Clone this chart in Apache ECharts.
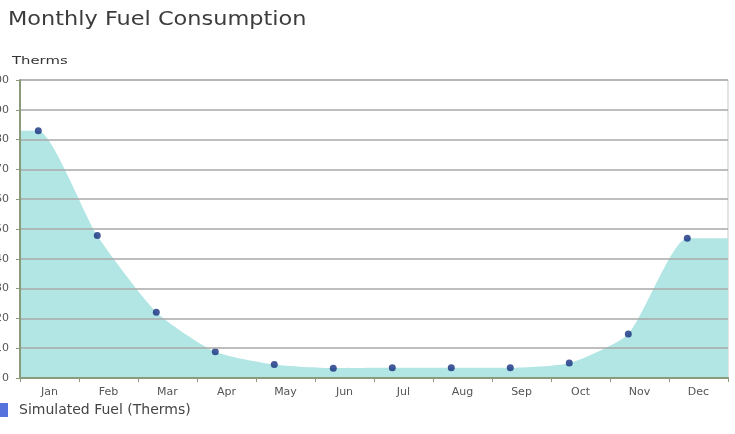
<!DOCTYPE html>
<html><head><meta charset="utf-8">
<script src="https://cdn.jsdelivr.net/npm/echarts@6/dist/echarts.min.js"></script>
<style>html,body{margin:0;padding:0;background:#fff}#c{width:735px;height:434px}</style>
</head><body><div id="c"></div>
<script>
const months = ['Jan','Feb','Mar','Apr','May','Jun','Jul','Aug','Sep','Oct','Nov','Dec'];
const fuel = [83, 47.8, 22.1, 8.8, 4.5, 3.3, 3.4, 3.4, 3.4, 5.0, 14.8, 46.9];
const yTicks = [0, 10, 20, 30, 40, 50, 60, 70, 80, 90, 100];
const seriesName = 'Simulated Fuel (Therms)';
const titleText = 'Monthly Fuel Consumption';
const unitText = 'Therms';

const off = 0.31;
const pts = fuel.map((v, i) => [i + off, v]);
const areaPts = [[0, fuel[0]]].concat(pts, [[months.length, fuel[fuel.length - 1]]]);
const FONT = 'DejaVu Sans, Verdana, sans-serif';

const chart = echarts.init(document.getElementById('c'), null, {renderer: 'canvas'});
chart.setOption({
  animation: false,
  graphic: [
    {type: 'text', left: 8, top: 11, scaleX: 1.18,
     style: {text: titleText, font: '19px ' + FONT, fill: '#3c3c3c'}},
    {type: 'text', left: 12, top: 56, scaleX: 1.35,
     style: {text: unitText, font: '11px ' + FONT, fill: '#333'}}
  ],
  legend: {
    left: 0, top: 403, padding: 0, itemWidth: 8, itemHeight: 14, itemGap: 10,
    textStyle: {fontFamily: FONT, fontSize: 14, color: '#444', padding: [0,0,0,6]},
    data: [{name: seriesName, icon: 'rect', itemStyle: {color: '#2b4fd4'}}]
  },
  grid: {left: 20, right: 7, top: 80, bottom: 56, outerBoundsMode: 'none', containLabel: false,
         show: true, borderColor: '#c8c8c8', borderWidth: 1},
  xAxis: [
    {type: 'category', data: months, boundaryGap: true, z: 5,
     axisLine: {lineStyle: {color: '#8c9a7c', width: 2}},
     axisTick: {show: true, interval: 0, length: 4, lineStyle: {color: '#8c9a7c'}},
     axisLabel: {interval: 0, margin: 9, fontFamily: FONT, fontSize: 11, color: '#555'}},
    {type: 'value', min: 0, max: months.length, show: false}
  ],
  yAxis: {
    type: 'value', min: yTicks[0], max: yTicks[yTicks.length - 1], interval: yTicks[1] - yTicks[0], z: 5,
    axisLine: {show: true, lineStyle: {color: '#8c9a7c', width: 2}},
    axisTick: {show: true, length: 4, lineStyle: {color: '#8c9a7c'}},
    axisLabel: {margin: 11, fontFamily: FONT, fontSize: 11, color: '#555'},
    splitLine: {lineStyle: {color: '#a8a8a8', width: 1.5}}
  },
  series: [
    {type: 'line', xAxisIndex: 1, data: areaPts, smooth: 0.2, symbol: 'none', silent: true,
     lineStyle: {width: 0}, areaStyle: {color: '#b2e6e5', opacity: 1}, z: 1},
    {name: seriesName, type: 'scatter', xAxisIndex: 1, data: pts, symbolSize: 7,
     itemStyle: {color: '#14307f'}, z: 3}
  ]
});
</script></body></html>
